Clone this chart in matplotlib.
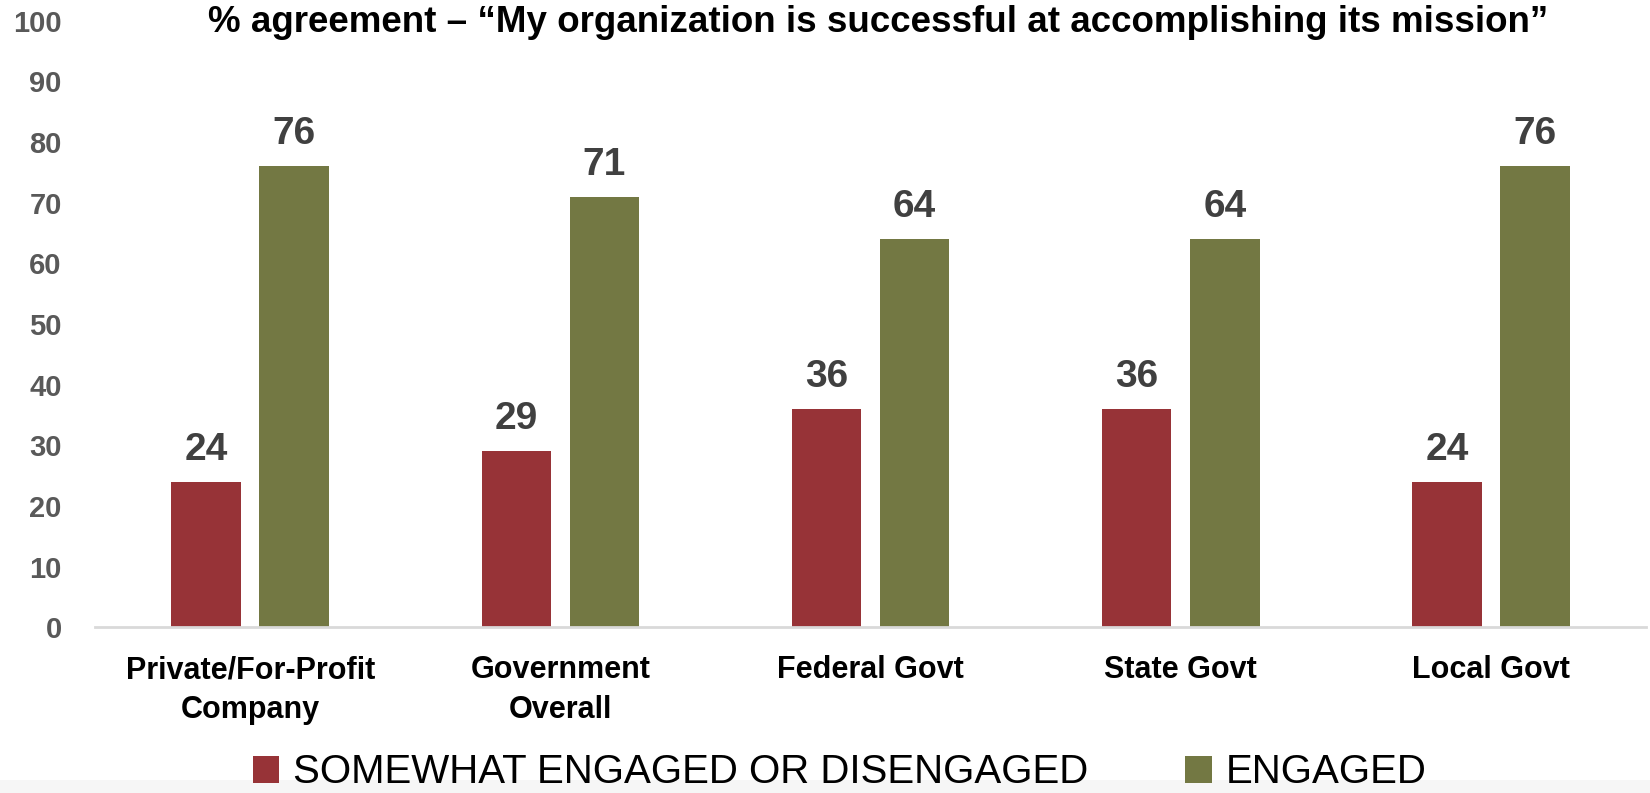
import matplotlib
matplotlib.use("Agg")
import matplotlib.pyplot as plt
import numpy as np
from matplotlib.patches import Rectangle

plt.rcParams["font.family"] = ["Liberation Sans Narrow", "Liberation Sans", "DejaVu Sans"]
plt.rcParams["font.weight"] = "bold"

categories = ["Private/For-Profit\nCompany", "Government\nOverall", "Federal Govt", "State Govt", "Local Govt"]
somewhat = [24, 29, 36, 36, 24]
engaged = [76, 71, 64, 64, 76]
series_names = ["SOMEWHAT ENGAGED OR DISENGAGED", "ENGAGED"]
yticks = list(range(0, 101, 10))

RED = "#973337"
GREEN = "#737843"

fig = plt.figure(figsize=(16.5, 7.93), dpi=100)
ax = fig.add_axes([0.0576, 0.209, 0.94, 0.765])

x = np.arange(len(categories))
w = 0.224
off = 0.142
b1 = ax.bar(x - off, somewhat, width=w, color=RED, label=series_names[0], zorder=2)
b2 = ax.bar(x + off, engaged, width=w, color=GREEN, label=series_names[1], zorder=2)

for bars in (b1, b2):
    for bar in bars:
        h = bar.get_height()
        ax.annotate(f"{h:g}", (bar.get_x() + bar.get_width() / 2, h),
                    xytext=(0, 10), textcoords="offset points",
                    ha="center", va="bottom", fontsize=28, fontweight="bold", color="#404040")

ax.set_xlim(-0.5, len(categories) - 0.5)
ax.set_ylim(0, 100)
ax.set_yticks(yticks)
ax.set_yticklabels([str(t) for t in yticks], fontsize=21, color="#595959", fontweight="bold")
ax.set_xticks(x)
ax.set_xticklabels(categories, fontsize=22, color="black", fontweight="bold", linespacing=1.42)
ax.tick_params(axis="both", length=0)
ax.tick_params(axis="y", pad=24)
ax.tick_params(axis="x", pad=20)
for s in ("top", "right", "left"):
    ax.spines[s].set_visible(False)
ax.spines["bottom"].set_color("#d9d9d9")
ax.spines["bottom"].set_linewidth(2)

fig.text(0.532, 0.971, "% agreement \u2013 \u201cMy organization is successful at accomplishing its mission\u201d",
         ha="center", va="center", fontsize=26.5, fontweight="bold", color="black")

# faint strip along the bottom edge
fig.patches.append(Rectangle((0, 0), 1, 0.016, transform=fig.transFigure,
                             facecolor="#f6f6f6", edgecolor="none", zorder=0))

fig.legend(handles=[b1, b2], loc="center", bbox_to_anchor=(0.509, 0.026), ncol=2,
           frameon=False, handlelength=0.65, handleheight=0.65,
           handletextpad=0.35, columnspacing=2.4, prop={"size": 29, "weight": "normal"})

fig.savefig("out.png", dpi=100, facecolor="white")
